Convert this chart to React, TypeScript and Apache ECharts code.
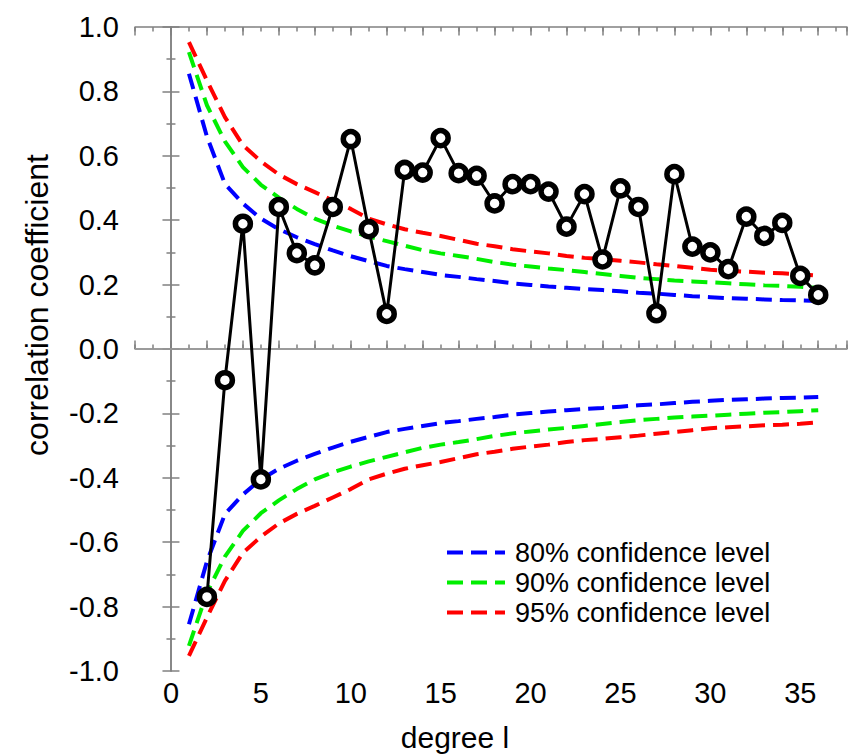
import React, { useEffect, useRef } from "react";
import * as echarts from "echarts";

// degree l of the correlation coefficients
const corrDegrees = [2, 3, 4, 5, 6, 7, 8, 9, 10, 11, 12, 13, 14, 15, 16, 17, 18, 19, 20, 21, 22, 23, 24, 25, 26, 27, 28, 29, 30, 31, 32, 33, 34, 35, 36];
const corrValues = [-0.77, -0.097, 0.389, -0.405, 0.441, 0.298, 0.26, 0.441, 0.652, 0.372, 0.109, 0.556, 0.548, 0.655, 0.546, 0.538, 0.452, 0.512, 0.512, 0.489, 0.38, 0.481, 0.278, 0.499, 0.441, 0.111, 0.543, 0.318, 0.3, 0.248, 0.411, 0.351, 0.392, 0.227, 0.168];

// degree l of the confidence-level curves
const levelDegrees = [1, 2, 3, 4, 5, 6, 7, 8, 9, 10, 11, 12, 13, 14, 15, 16, 17, 18, 19, 20, 21, 22, 23, 24, 25, 26, 27, 28, 29, 30, 31, 32, 33, 34, 35, 36];
const conf80 = [0.855, 0.66, 0.513, 0.452, 0.405, 0.372, 0.347, 0.326, 0.306, 0.288, 0.273, 0.258, 0.248, 0.239, 0.23, 0.224, 0.217, 0.211, 0.204, 0.199, 0.194, 0.19, 0.186, 0.183, 0.179, 0.175, 0.172, 0.168, 0.164, 0.161, 0.158, 0.156, 0.154, 0.152, 0.151, 0.149];
const conf90 = [0.922, 0.757, 0.645, 0.565, 0.51, 0.47, 0.435, 0.405, 0.383, 0.365, 0.349, 0.335, 0.321, 0.307, 0.297, 0.289, 0.28, 0.27, 0.262, 0.256, 0.25, 0.245, 0.239, 0.233, 0.227, 0.221, 0.217, 0.213, 0.21, 0.207, 0.204, 0.201, 0.198, 0.196, 0.193, 0.19];
const conf95 = [0.953, 0.834, 0.72, 0.633, 0.583, 0.542, 0.512, 0.487, 0.461, 0.435, 0.405, 0.387, 0.372, 0.361, 0.351, 0.339, 0.327, 0.319, 0.31, 0.303, 0.297, 0.289, 0.283, 0.279, 0.274, 0.269, 0.263, 0.258, 0.252, 0.246, 0.243, 0.24, 0.237, 0.235, 0.232, 0.228];

const levelNames = ["80% confidence level", "90% confidence level", "95% confidence level"];
const levelColors = ["#0000ff", "#00ee00", "#ff0000"];
const levelValues = [conf80, conf90, conf95];

const xLabelValues = [0, 5, 10, 15, 20, 25, 30, 35];

const FONT = 'Arial, "Liberation Sans", Helvetica, sans-serif';
const AXIS_COLOR = "#808080";
const DASH = [16, 8];

export default function App() {
  const ref = useRef<HTMLDivElement>(null);

  useEffect(() => {
    const chart = echarts.init(ref.current!, null, { renderer: "svg" });

    const xBase = {
      type: "value" as const,
      min: -2,
      max: 37.6,
      splitLine: { show: false },
    };
    const yBase = {
      type: "value" as const,
      min: -1,
      max: 1,
      interval: 0.2,
      splitLine: { show: false },
    };
    const lineStyle = { color: AXIS_COLOR, width: 1.5 };

    const series: any[] = [];
    levelValues.forEach((vals, i) => {
      const ls = { color: levelColors[i], width: 4, type: DASH };
      series.push({
        name: levelNames[i],
        type: "line",
        data: levelDegrees.map((l, k) => [l, vals[k]]),
        symbol: "none",
        lineStyle: ls,
        itemStyle: { color: levelColors[i] },
        z: 2,
        ...(i === 0
          ? {
              markLine: {
                silent: true,
                symbol: ["none", "none"],
                label: { show: false },
                lineStyle: { color: "#9a9a9a", width: 1.5, type: "solid" },
                data: [{ yAxis: 0 }],
                z: 1,
              },
            }
          : {}),
      });
      series.push({
        name: levelNames[i] + " (lower)",
        type: "line",
        data: levelDegrees.map((l, k) => [l, -vals[k]]),
        symbol: "none",
        lineStyle: ls,
        itemStyle: { color: levelColors[i] },
        z: 2,
      });
    });
    series.push({
      name: "correlation",
      type: "line",
      data: corrDegrees.map((l, k) => [l, corrValues[k]]),
      symbol: "circle",
      symbolSize: 15,
      itemStyle: { color: "#ffffff", borderColor: "#000000", borderWidth: 5.5 },
      lineStyle: { color: "#000000", width: 3 },
      z: 5,
    });

    chart.setOption({
      animation: false,
      backgroundColor: "#ffffff",
      grid: { left: 135, top: 27, width: 714, height: 644, containLabel: false },
      legend: {
        data: levelNames,
        orient: "vertical",
        left: 440,
        top: 534,
        itemWidth: 58,
        itemHeight: 14,
        itemGap: 3,
        itemStyle: { opacity: 0 },
        lineStyle: { width: 4, type: DASH },
        textStyle: { fontSize: 27, fontFamily: FONT, color: "#000", padding: [0, 0, 0, 5] },
      },
      xAxis: [
        {
          ...xBase,
          position: "bottom",
          interval: 1,
          axisLine: { show: true, lineStyle },
          axisTick: { show: true, inside: true, length: 4.5, lineStyle },
          axisLabel: {
            show: true,
            margin: 7,
            fontSize: 29,
            fontFamily: FONT,
            color: "#000",
            formatter: (v: number) => {
              const r = Math.round(v);
              return Math.abs(v - r) < 1e-6 && xLabelValues.indexOf(r) >= 0 ? String(r) : "";
            },
          },
        },
        {
          ...xBase,
          position: "bottom",
          interval: 2,
          axisLine: { show: false },
          axisTick: { show: true, inside: true, length: 8.5, lineStyle },
          axisLabel: { show: false },
        },
        {
          ...xBase,
          position: "top",
          interval: 1,
          axisLine: { show: true, lineStyle },
          axisTick: { show: true, inside: true, length: 4.5, lineStyle },
          axisLabel: { show: false },
        },
        {
          ...xBase,
          position: "top",
          interval: 2,
          axisLine: { show: false },
          axisTick: { show: true, inside: true, length: 8.5, lineStyle },
          axisLabel: { show: false },
        },
      ],
      yAxis: [
        {
          ...yBase,
          position: "left",
          axisLine: { show: true, lineStyle },
          axisTick: { show: true, inside: true, length: 8.5, lineStyle },
          minorTick: { show: true, splitNumber: 2, length: 4.5, lineStyle },
          axisLabel: {
            show: true,
            margin: 16,
            fontSize: 29,
            fontFamily: FONT,
            color: "#000",
            formatter: (v: number) => v.toFixed(1),
          },
        },
        {
          ...yBase,
          position: "right",
          axisLine: { show: true, lineStyle },
          axisTick: { show: true, inside: true, length: 8.5, lineStyle },
          minorTick: { show: true, splitNumber: 2, length: 4.5, lineStyle },
          axisLabel: { show: false },
        },
      ],
      graphic: [
        {
          type: "text",
          x: 455,
          y: 737,
          style: {
            text: "degree l",
            fontSize: 30,
            fontFamily: FONT,
            fill: "#000",
            align: "center",
            verticalAlign: "middle",
          },
        },
        {
          type: "text",
          x: 37,
          y: 305,
          rotation: Math.PI / 2,
          style: {
            text: "correlation coefficient",
            fontSize: 32,
            fontFamily: FONT,
            fill: "#000",
            align: "center",
            verticalAlign: "middle",
          },
        },
      ],
      series,
    });

    return () => chart.dispose();
  }, []);

  return (
    <div
      ref={ref}
      style={{ position: "fixed", left: 0, top: 0, width: 850, height: 755, background: "#fff" }}
    />
  );
}
